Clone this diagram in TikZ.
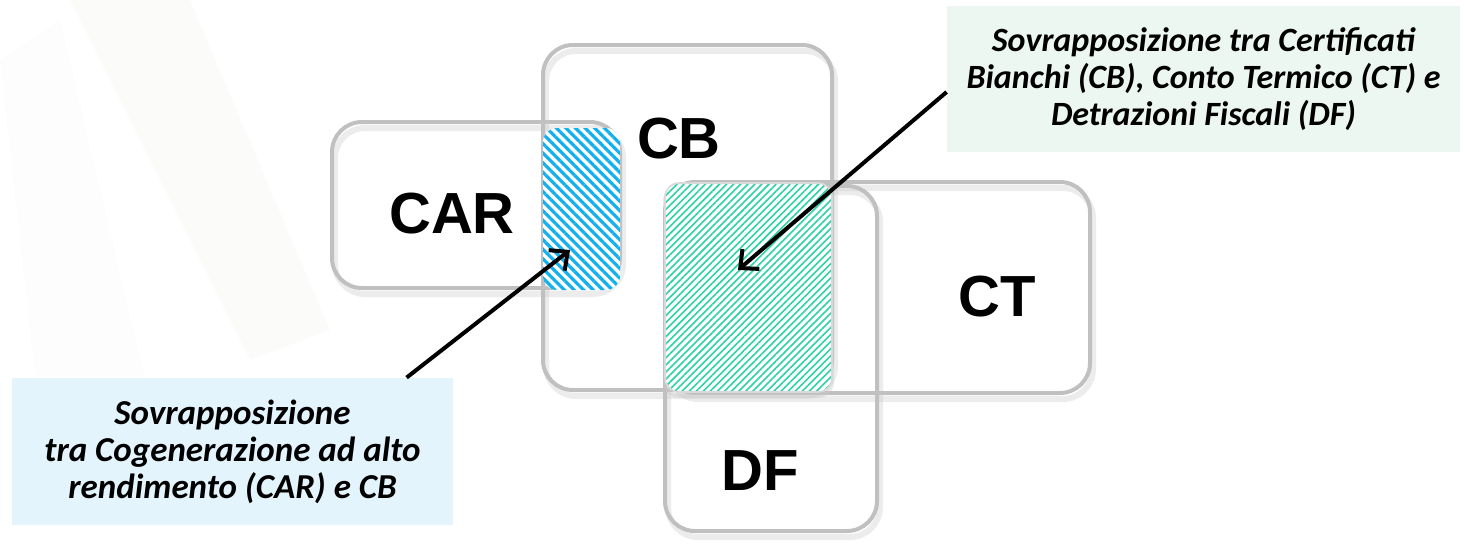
\documentclass[tikz,border=0pt]{standalone}
\usepackage{fontspec}
\setmainfont{Carlito}
\newfontfamily\arialschrift{Liberation Sans}
\usetikzlibrary{arrows.meta, patterns.meta}
\definecolor{rahmen}{RGB}{192,192,192}
\definecolor{schatten}{RGB}{200,200,200}
\definecolor{carblau}{RGB}{20,176,238}
\definecolor{dfgruen}{RGB}{45,210,165}
\definecolor{notizblau}{RGB}{227,244,252}
\definecolor{notizgruen}{RGB}{237,247,241}
\definecolor{hintergrund}{RGB}{238,241,236}

\begin{document}
\begin{tikzpicture}[x=0.5pt, y=-0.5pt,
    menge/.style={draw=rahmen, line width=2pt, rounded corners=15pt},
    mengeschatten/.style={draw=schatten, line width=3pt, rounded corners=15pt, opacity=0.35},
    schraffur/.style={rounded corners=7pt},
    etikett/.style={font=\arialschrift\bfseries\fontsize{29}{34}\selectfont, inner sep=0pt},
    notiz/.style={font=\bfseries\itshape\fontsize{17.5}{18.5}\selectfont, align=center, inner sep=0pt},
    pfeil/.style={draw=black, line width=2pt, -{Straight Barb[length=7pt,width=13pt]}}]

    \useasboundingbox (0,0) rectangle (1464,543);

    % faint streaks in the background
    \fill[hintergrund, opacity=0.25] (70,0) -- (190,0) -- (330,330) -- (250,360) -- cycle;
    \fill[hintergrund, opacity=0.15] (0,60) -- (60,20) -- (150,400) -- (40,420) -- cycle;

    % the four sets
    \foreach \a/\b/\c/\d in {332/122/620/288, 543/45/832/390, 665/182/1090/393, 665/186/877/531}{
        \draw[mengeschatten, xshift=1.5pt, yshift=-3pt] (\a,\b) rectangle (\c,\d);
        \draw[menge] (\a,\b) rectangle (\c,\d);
    }

    % overlaps
    \fill[white, schraffur] (543,128) rectangle (620,290);
    \fill[schraffur, pattern={Lines[angle=-45, distance=3.4pt, line width=1.6pt]}, pattern color=carblau] (543,128) rectangle (620,290);

    \draw[schatten, line width=2pt, opacity=0.4, schraffur, yshift=-2pt] (665,183) rectangle (832,392);
    \fill[white, schraffur] (665,183) rectangle (832,392);
    \fill[schraffur, pattern={Lines[angle=45, distance=2.5pt, line width=0.8pt]}, pattern color=dfgruen] (665,183) rectangle (832,392);
    \draw[rahmen!60, line width=0.8pt, schraffur] (665,183) rectangle (832,392);

    \node[etikett] (car) at (452,214) {CAR};
    \node[etikett] (cb) at (679,139) {CB};
    \node[etikett] (ct) at (997,297) {CT};
    \node[etikett] (df) at (760,471) {DF};

    % notes
    \node[notiz, fill=notizblau, minimum width=220.5pt, minimum height=73.5pt] (links) at (232.5,451.5)
        {Sovrapposizione\\tra Cogenerazione ad alto\\rendimento (CAR) e CB};
    \node[notiz, font=\bfseries\itshape\fontsize{17}{18.5}\selectfont, fill=notizgruen, minimum width=256.5pt, minimum height=73pt] (rechts) at (1203.5,79)
        {Sovrapposizione tra Certificati\\Bianchi (CB), Conto Termico (CT) e\\Detrazioni Fiscali (DF)};

    \coordinate (carziel) at (570,250);
    \coordinate (dfziel) at (738,270);
    \draw[pfeil] ([xshift=197.5pt]links.north west) -- (carziel);
    \draw[pfeil] ([yshift=-6.5pt]rechts.west) -- (dfziel);

\end{tikzpicture}
\end{document}
